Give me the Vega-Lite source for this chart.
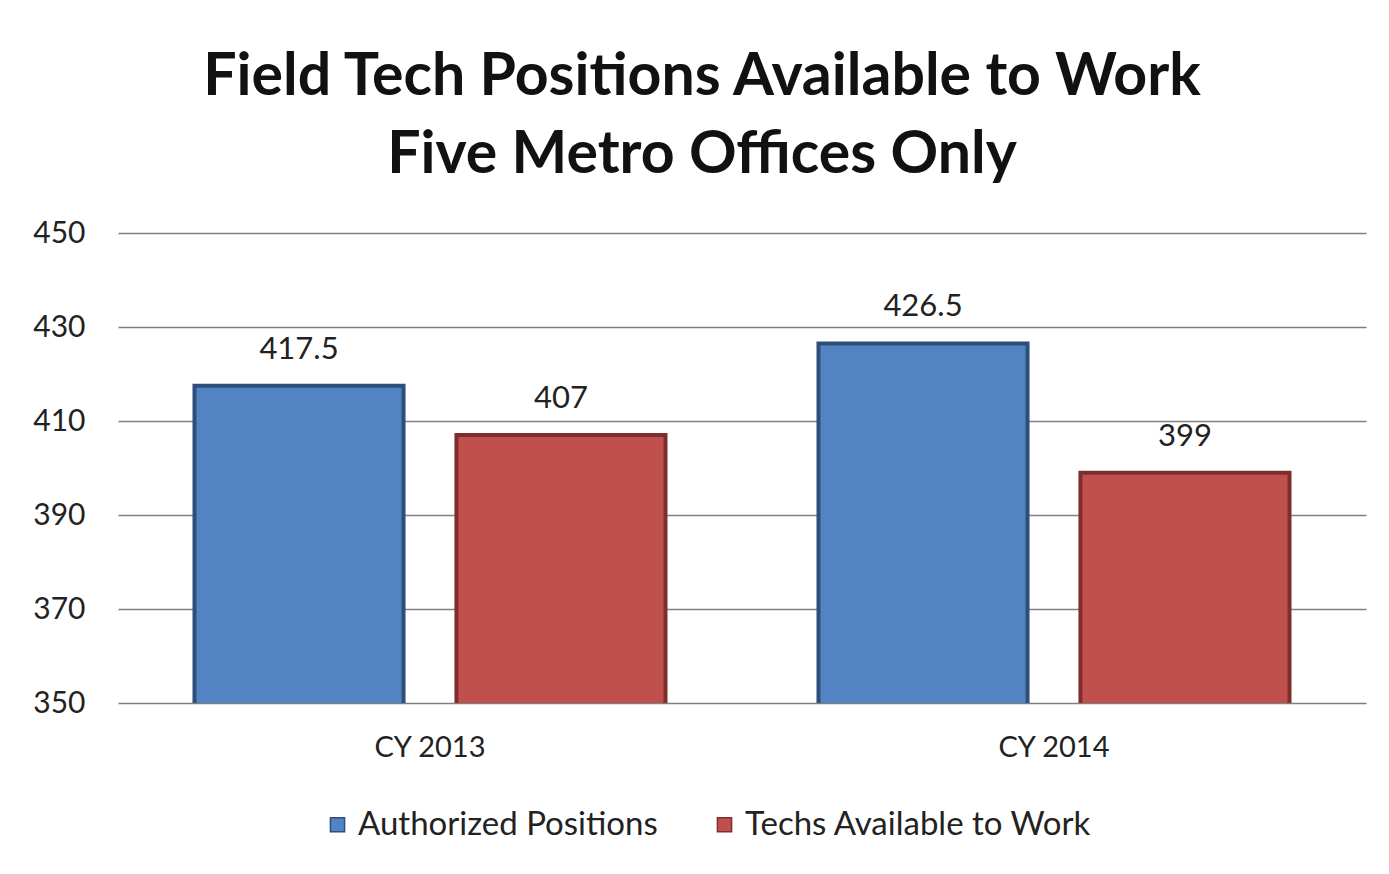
{
  "$schema": "https://vega.github.io/schema/vega-lite/v6.json",
  "width": 1248,
  "height": 470,
  "autosize": {"type": "none"},
  "padding": {"left": 118, "top": 233, "right": 23, "bottom": 171},
  "background": "white",
  "config": {
    "font": "Lato",
    "view": {"stroke": null},
    "axis": {"labelFont": "Lato", "labelColor": "#222", "labelFontSize": 30}
  },
  "title": {
    "text": ["Field Tech Positions Available to Work", "Five Metro Offices Only"],
    "font": "Lato",
    "fontSize": 59,
    "fontWeight": "bold",
    "color": "#111",
    "anchor": "middle",
    "frame": "group",
    "dx": -40,
    "lineHeight": 78,
    "offset": 33
  },
  "data": {
    "values": [
      {"year": "CY 2013", "series": "Authorized Positions", "value": 417.5},
      {"year": "CY 2013", "series": "Techs Available to Work", "value": 407},
      {"year": "CY 2014", "series": "Authorized Positions", "value": 426.5},
      {"year": "CY 2014", "series": "Techs Available to Work", "value": 399}
    ]
  },
  "encoding": {
    "x": {
      "field": "year", "type": "nominal",
      "scale": {"paddingInner": 0, "paddingOuter": 0},
      "axis": {"title": null, "labelAngle": 0, "domain": false, "ticks": false, "labelPadding": 30, "labelFontSize": 29}
    },
    "xOffset": {
      "field": "series", "type": "nominal",
      "scale": {"paddingInner": 0.202, "paddingOuter": 0.292}
    },
    "y": {
      "field": "value", "type": "quantitative",
      "scale": {"domain": [350, 450], "nice": false, "zero": false},
      "axis": {"title": null, "values": [350, 370, 390, 410, 430, 450], "domain": false, "ticks": false, "labelPadding": 33, "gridColor": "#7f7f7f", "gridWidth": 1.5, "gridOpacity": 1}
    }
  },
  "layer": [
    {
      "mark": {"type": "bar", "strokeWidth": 4, "clip": true},
      "encoding": {
        "color": {
          "field": "series", "type": "nominal",
          "scale": {"domain": ["Authorized Positions", "Techs Available to Work"], "range": ["#5284c4", "#c0504d"]},
          "legend": {
            "title": null, "orient": "none", "direction": "horizontal",
            "legendX": 203, "legendY": 575,
            "symbolType": "square", "symbolSize": 200, "labelFontSize": 33, "labelColor": "#222",
            "labelFont": "Lato", "columnPadding": 50, "labelOffset": 4, "labelLimit": 500
          }
        },
        "stroke": {
          "field": "series", "type": "nominal",
          "scale": {"domain": ["Authorized Positions", "Techs Available to Work"], "range": ["#2d4f7a", "#7e2f2c"]},
          "legend": null
        }
      }
    },
    {
      "mark": {"type": "text", "baseline": "bottom", "dy": -20, "fontSize": 31, "font": "Lato", "color": "#222"},
      "encoding": {"text": {"field": "value", "type": "quantitative"}}
    }
  ]
}
